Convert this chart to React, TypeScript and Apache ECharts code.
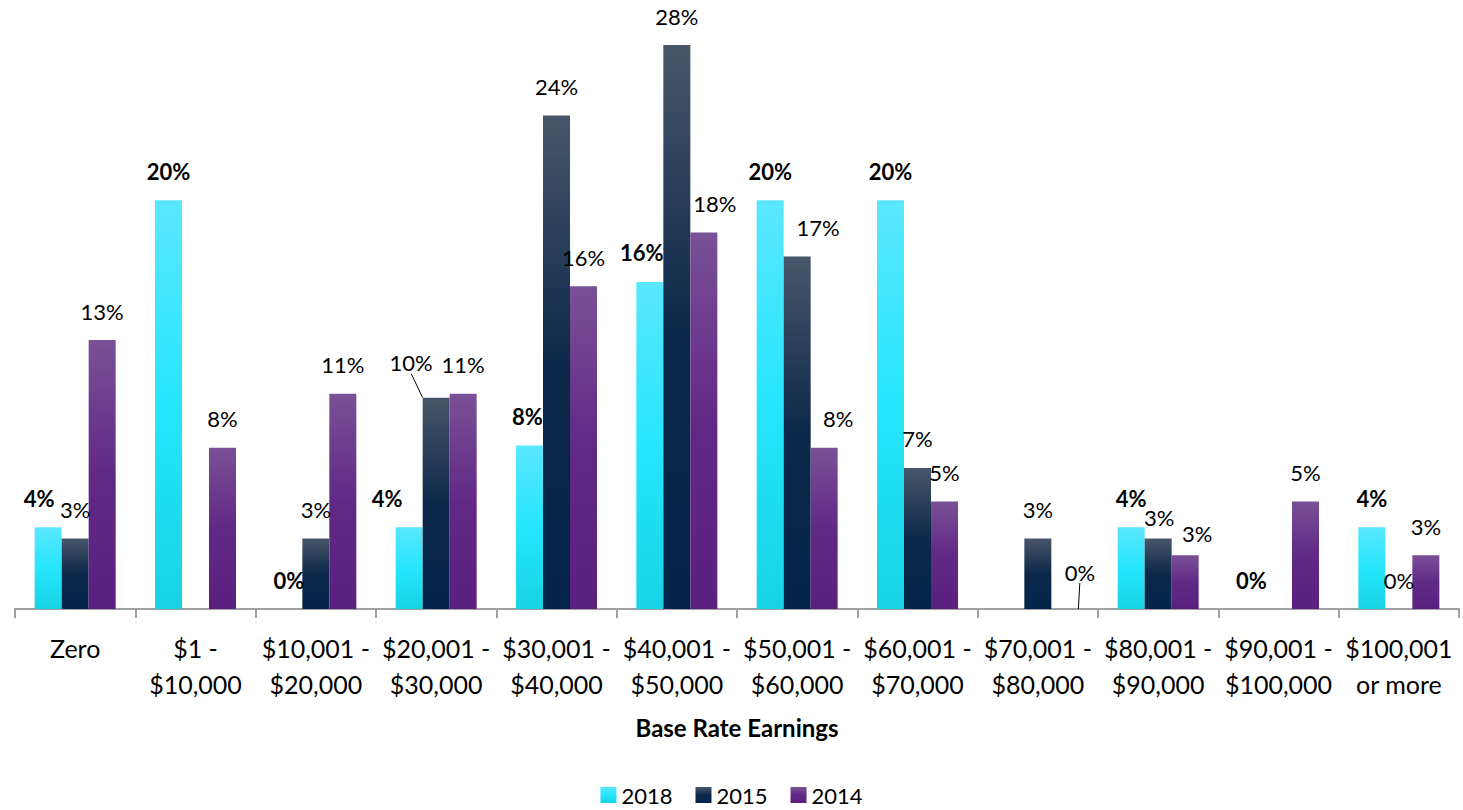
import React, { useEffect, useRef } from "react";
import * as echarts from "echarts";

const categories = [
  "Zero",
  "$1 -\n$10,000",
  "$10,001 -\n$20,000",
  "$20,001 -\n$30,000",
  "$30,001 -\n$40,000",
  "$40,001 -\n$50,000",
  "$50,001 -\n$60,000",
  "$60,001 -\n$70,000",
  "$70,001 -\n$80,000",
  "$80,001 -\n$90,000",
  "$90,001 -\n$100,000",
  "$100,001\nor more",
];

const values2018: (number | null)[] = [4, 20, 0, 4, 8, 16, 20, 20, null, 4, 0, 4];
const values2015: (number | null)[] = [3.45, null, 3.45, 10.34, 24.14, 27.59, 17.24, 6.9, 3.45, 3.45, null, 0];
const values2014: (number | null)[] = [13.16, 7.89, 10.53, 10.53, 15.79, 18.42, 7.89, 5.26, 0, 2.63, 5.26, 2.63];

const seriesNames = ["2018", "2015", "2014"];
const axisTitle = "Base Rate Earnings";

// label nudges [dx, dy] keyed by "seriesIndex-dataIndex"
const labelShift: Record<string, [number, number]> = {
  "0-0": [-9, 0],
  "0-3": [-22, 0],
  "0-4": [-2, 0],
  "0-5": [-8, 0],
  "1-3": [-25, -6],
  "1-6": [21, 0],
  "1-9": [1, 8],
  "2-5": [11, 0],
  "2-6": [14, 0],
  "2-8": [15, -8],
  "2-9": [12, 7],
};
const withLeader = ["1-3", "2-8"];

const FONT = "Lato";

function grad(stops: [number, string][]) {
  return new echarts.graphic.LinearGradient(
    0, 0, 0, 1,
    stops.map(([offset, color]) => ({ offset, color }))
  );
}

const colors = [
  grad([[0, "#5ae7ff"], [0.5, "#26e6fc"], [1, "#17d3e3"]]),
  grad([[0, "#48566a"], [0.5, "#0c284a"], [1, "#03244a"]]),
  grad([[0, "#7a5096"], [0.5, "#612986"], [1, "#5a2080"]]),
];

export default function App() {
  const ref = useRef<HTMLDivElement>(null);

  useEffect(() => {
    if (!ref.current) return;
    const chart = echarts.init(ref.current, undefined, { renderer: "svg" });
    const allValues = [values2018, values2015, values2014];

    const series = allValues.map((vals, si) => ({
      name: seriesNames[si],
      type: "bar",
      barWidth: 27,
      barGap: "0%",
      itemStyle: { color: colors[si] },
      data: vals.map((v, di) => {
        const key = `${si}-${di}`;
        const item: any = { value: v };
        if (withLeader.includes(key)) {
          item.labelLine = { show: true, lineStyle: { color: "#000", width: 1 } };
        }
        return item;
      }),
      label: {
        show: true,
        position: "top",
        distance: 18,
        fontFamily: FONT,
        fontSize: 22,
        fontWeight: si === 0 ? "bold" : "normal",
        color: "#000",
        formatter: (p: any) => (p.value == null ? "" : Math.round(p.value) + "%"),
      },
      labelLine: { show: false },
      labelLayout: (params: any) => {
        const s = labelShift[`${params.seriesIndex}-${params.dataIndex}`];
        return s ? { dx: s[0], dy: s[1] } : {};
      },
    }));

    chart.setOption({
      animation: false,
      textStyle: { fontFamily: FONT },
      grid: { left: 15, right: 4, top: 6, bottom: 201, containLabel: false },
      legend: {
        data: seriesNames,
        top: 779,
        left: "center",
        itemWidth: 16,
        itemHeight: 16,
        itemGap: 23,
        icon: "rect",
        textStyle: { fontFamily: FONT, fontSize: 22, color: "#000" },
      },
      xAxis: {
        type: "category",
        data: categories,
        name: axisTitle,
        nameLocation: "middle",
        nameGap: 106,
        nameTextStyle: { fontFamily: FONT, fontSize: 24, fontWeight: "bold", color: "#000" },
        axisLine: { lineStyle: { color: "#a0a0a0", width: 2 } },
        axisTick: { show: true, length: 9, lineStyle: { color: "#a0a0a0", width: 2 } },
        axisLabel: {
          interval: 0,
          fontFamily: FONT,
          fontSize: 25,
          lineHeight: 36,
          color: "#000",
          margin: 21,
        },
      },
      yAxis: {
        type: "value",
        min: 0,
        max: 29.5,
        show: false,
        splitLine: { show: false },
      },
      series,
    });
    return () => chart.dispose();
  }, []);

  return (
    <div
      ref={ref}
      style={{ position: "fixed", left: 0, top: 0, width: 1463, height: 810, background: "#fff" }}
    />
  );
}
